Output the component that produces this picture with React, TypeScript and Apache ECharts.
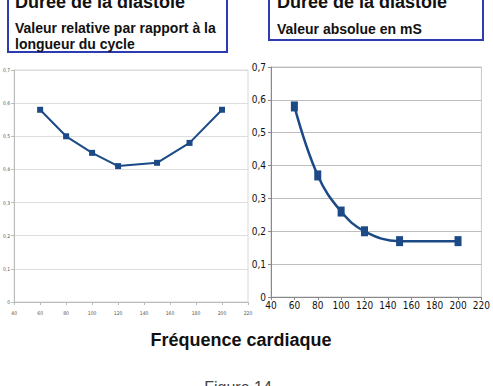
import React, { useEffect, useRef } from "react";
import * as echarts from "echarts";

const relRates = [60, 80, 100, 120, 150, 175, 200];
const relValues = [0.58, 0.5, 0.45, 0.41, 0.42, 0.48, 0.58];
const absRates = [60, 80, 100, 120, 150, 200];
const absValues = [0.58, 0.37, 0.26, 0.2, 0.17, 0.17];
const xMin = 40;
const xMax = 220;
const xStep = 20;
const yMin = 0;
const yMax = 0.7;
const yStep = 0.1;

const titleText = "Durée de la diastole";
const leftSub1 = "Valeur relative par rapport à la";
const leftSub2 = "longueur du cycle";
const rightSub = "Valeur absolue en mS";
const xTitle = "Fréquence cardiaque";
const caption = "Figure 14";

const LINE = "#1b4a86";
const BOX = "#2c3cb0";
const fmtY = (v: number) => (v === 0 ? "0" : v.toFixed(1).replace(".", ","));

export default function App() {
  const ref = useRef<HTMLDivElement>(null);
  useEffect(() => {
    if (!ref.current) return;
    const chart = echarts.init(ref.current, null, { renderer: "svg" });
    const small = { fontSize: 5, color: "#555", fontFamily: "DejaVu Sans Condensed, sans-serif" };
    const big = { fontSize: 10, color: "#111", fontFamily: "Liberation Sans Narrow, DejaVu Sans Condensed, sans-serif" };
    chart.setOption({
      animation: false,
      backgroundColor: "#fff",
      grid: [
        { left: 13, top: 70, width: 235, height: 232, show: true, borderColor: "#d8d8d8", borderWidth: 1 },
        { left: 271, top: 67, width: 215, height: 230, show: true, borderColor: "#c8c8c8", borderWidth: 1 },
      ],
      xAxis: [
        {
          gridIndex: 0, type: "value", min: xMin, max: xMax, interval: xStep,
          axisLine: { lineStyle: { color: "#bbb" } },
          axisTick: { show: true, length: 3, lineStyle: { color: "#bbb" } },
          axisLabel: { ...small, margin: 8 },
          splitLine: { show: false },
        },
        {
          gridIndex: 1, type: "value", min: xMin, max: xMax, interval: xStep,
          axisLine: { lineStyle: { color: "#888" } },
          axisTick: { show: true, length: 3, lineStyle: { color: "#888" } },
          axisLabel: { ...big, margin: 3 },
          splitLine: { show: false },
        },
      ],
      yAxis: [
        {
          gridIndex: 0, type: "value", min: yMin, max: yMax, interval: yStep,
          axisLine: { show: true, lineStyle: { color: "#bbb" } },
          axisTick: { show: true, length: 3, lineStyle: { color: "#bbb" } },
          axisLabel: { ...small, margin: 4, formatter: fmtY },
          splitLine: { show: true, lineStyle: { color: "#dedede" } },
        },
        {
          gridIndex: 1, type: "value", min: yMin, max: yMax, interval: yStep,
          axisLine: { show: true, lineStyle: { color: "#888" } },
          axisTick: { show: true, length: 3, lineStyle: { color: "#888" } },
          axisLabel: { ...big, margin: 5, formatter: fmtY },
          splitLine: { show: true, lineStyle: { color: "#bdbdbd" } },
        },
      ],
      series: [
        {
          type: "line", xAxisIndex: 0, yAxisIndex: 0,
          data: relRates.map((r, i) => [r, relValues[i]]),
          symbol: "rect", symbolSize: [6, 6],
          lineStyle: { color: LINE, width: 2 },
          itemStyle: { color: LINE },
        },
        {
          type: "line", xAxisIndex: 1, yAxisIndex: 1,
          data: absRates.map((r, i) => [r, absValues[i]]),
          smooth: 0.4,
          symbol: "rect", symbolSize: [7, 10],
          lineStyle: { color: LINE, width: 2.5 },
          itemStyle: { color: LINE },
        },
      ],
      graphic: [
        { type: "rect", shape: { x: 8, y: -20, width: 219, height: 72 }, style: { fill: "#fff", stroke: BOX, lineWidth: 2 } },
        { type: "rect", shape: { x: 269, y: -20, width: 214, height: 60 }, style: { fill: "#fff", stroke: BOX, lineWidth: 2 } },
        { type: "text", x: 15, y: 2, style: { text: titleText, font: "bold 18px 'Liberation Sans', Arial, sans-serif", fill: "#111", verticalAlign: "middle" } },
        { type: "text", x: 15, y: 28, style: { text: leftSub1, font: "bold 14px 'Liberation Sans', Arial, sans-serif", fill: "#111", verticalAlign: "middle" } },
        { type: "text", x: 15, y: 44, style: { text: leftSub2, font: "bold 14px 'Liberation Sans', Arial, sans-serif", fill: "#111", verticalAlign: "middle" } },
        { type: "text", x: 277, y: 2, style: { text: titleText, font: "bold 18px 'Liberation Sans', Arial, sans-serif", fill: "#111", verticalAlign: "middle" } },
        { type: "text", x: 277, y: 29, style: { text: rightSub, font: "bold 14px 'Liberation Sans', Arial, sans-serif", fill: "#111", verticalAlign: "middle" } },
        { type: "text", x: 241, y: 340, style: { text: xTitle, font: "bold 18px 'Liberation Sans', Arial, sans-serif", fill: "#111", align: "center", verticalAlign: "middle" } },
        { type: "text", x: 238, y: 379, style: { text: caption, font: "16px 'Liberation Sans', Arial, sans-serif", fill: "#444", align: "center", verticalAlign: "top" } },
      ],
    });
    return () => chart.dispose();
  }, []);
  return <div ref={ref} style={{ position: "absolute", left: 0, top: 0, width: 493, height: 386 }} />;
}
